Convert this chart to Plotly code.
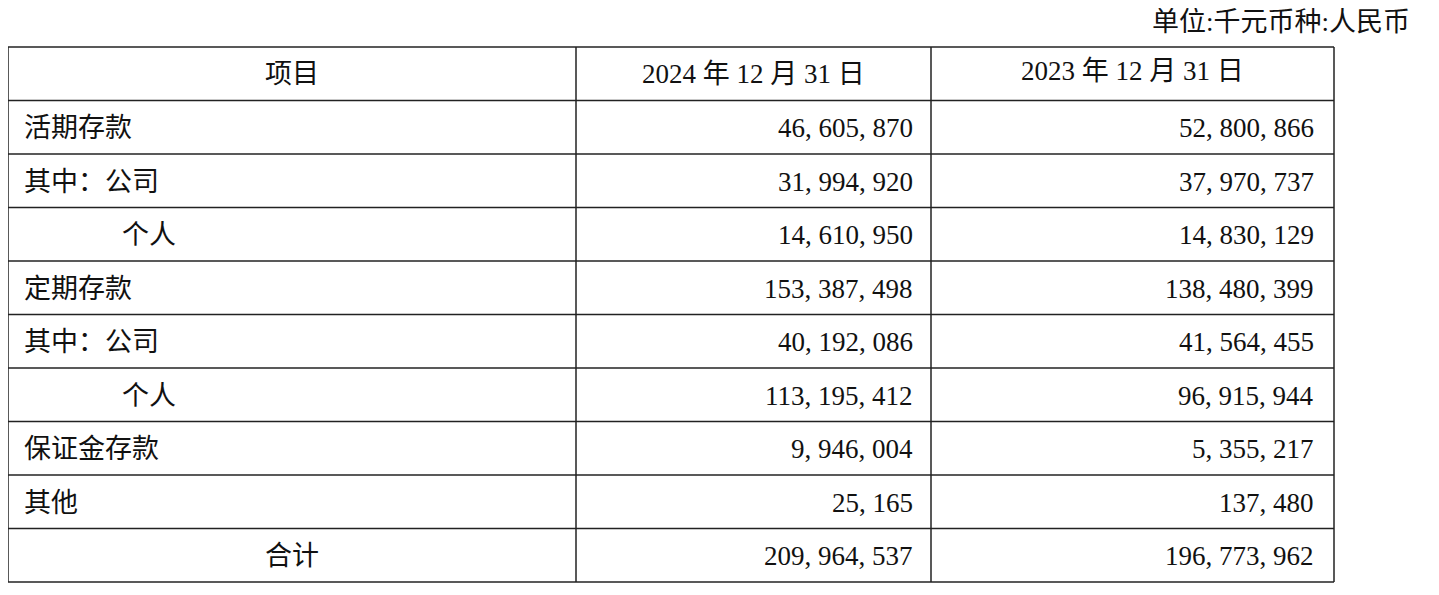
import plotly.graph_objects as go

unit_text = "单位:千元币种:人民币"
headers = ["项目", "2024 年 12 月 31 日", "2023 年 12 月 31 日"]
items = ["活期存款", "其中：公司", "个人", "定期存款", "其中：公司", "个人", "保证金存款", "其他", "合计"]
indent = ["left", "left", "indent", "left", "left", "indent", "left", "left", "center"]
v2024 = ["46, 605, 870", "31, 994, 920", "14, 610, 950", "153, 387, 498", "40, 192, 086",
         "113, 195, 412", "9, 946, 004", "25, 165", "209, 964, 537"]
v2023 = ["52, 800, 866", "37, 970, 737", "14, 830, 129", "138, 480, 399", "41, 564, 455",
         "96, 915, 944", "5, 355, 217", "137, 480", "196, 773, 962"]

W, H = 1439, 595
OFF = 8  # page body margin
col_x = [8, 576, 931, 1334]
top, bottom = 47, 582
nrows = len(items) + 1
rh = (bottom - top) / nrows
font = dict(family="Liberation Serif, Noto Sans CJK SC", size=27, color="#111")

fig = go.Figure()
shapes = []
for i in range(nrows + 1):
    y = top + i * rh
    shapes.append(dict(type="line", x0=col_x[0], x1=col_x[-1], y0=y, y1=y,
                       line=dict(color="#222", width=1.5), xref="x", yref="y"))
for x in col_x:
    shapes.append(dict(type="line", x0=x, x1=x, y0=top, y1=bottom,
                       line=dict(color="#222", width=1.5), xref="x", yref="y"))

ann = []
def add(x, y, t, anchor):
    ann.append(dict(x=x, y=y, text=t, showarrow=False, xanchor=anchor, yanchor="middle",
                    font=font, xref="x", yref="y"))

add(1412, 22, unit_text, "right")
hy = top + rh / 2
add((col_x[0] + col_x[1]) / 2, hy, headers[0], "center")
add((col_x[1] + col_x[2]) / 2, hy, headers[1], "center")
add((col_x[2] + col_x[3]) / 2, hy - 3, headers[2], "center")
for i, (it, ind, a, b) in enumerate(zip(items, indent, v2024, v2023)):
    y = top + (i + 1.5) * rh + 1
    if ind == "left":
        add(22, y, it, "left")
    elif ind == "indent":
        add(120, y, it, "left")
    else:
        add((col_x[0] + col_x[1]) / 2, y, it, "center")
    add(col_x[2] - 16, y, a, "right")
    add(col_x[3] - 18, y, b, "right")

fig.update_layout(width=W, height=H, margin=dict(l=0, r=0, t=0, b=0),
                  paper_bgcolor="white", plot_bgcolor="white",
                  xaxis=dict(range=[OFF, W + OFF], visible=False, fixedrange=True),
                  yaxis=dict(range=[H + OFF, OFF], visible=False, fixedrange=True),
                  shapes=shapes, annotations=ann, showlegend=False)
fig.write_html("out.html")
